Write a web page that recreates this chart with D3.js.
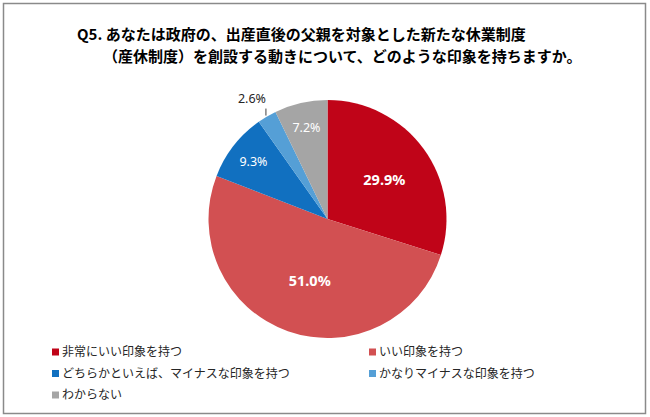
<!DOCTYPE html>
<html>
<head>
<meta charset="utf-8">
<script src="https://cdn.jsdelivr.net/npm/d3@7"></script>
<style>
  body { margin: 0; background: #fff; }
  text { font-family: "Noto Sans CJK JP", "Noto Sans", sans-serif; }
</style>
</head>
<body>
<div id="chart"></div>
<script>
// data
var categories = ["非常にいい印象を持つ", "いい印象を持つ", "どちらかといえば、マイナスな印象を持つ", "かなりマイナスな印象を持つ", "わからない"];
var values = [29.9, 51.0, 9.3, 2.6, 7.2];
var colors = ["#C00418", "#D25052", "#1170C0", "#559FD6", "#A5A5A5"];
var titleLines = ["Q5. あなたは政府の、出産直後の父親を対象とした新たな休業制度", "（産休制度）を創設する動きについて、どのような印象を持ちますか。"];

var svgWidth = 650;
var svgHeight = 417;

var svg = d3.select("#chart")
  .append("svg")
  .attr("width", svgWidth)
  .attr("height", svgHeight);

// outer frame
svg.append("rect")
  .attr("x", 3.5)
  .attr("y", 3.5)
  .attr("width", 642)
  .attr("height", 410)
  .attr("fill", "#fff")
  .attr("stroke", "#8a8a8a")
  .attr("stroke-width", 1.5);

// title (two lines)
svg.append("text")
  .attr("x", 77)
  .attr("y", 40)
  .style("font-size", "15px")
  .style("font-weight", "bold")
  .text(titleLines[0]);

svg.append("text")
  .attr("x", 103)
  .attr("y", 62)
  .style("font-size", "15px")
  .style("font-weight", "bold")
  .text(titleLines[1]);

// pie
var cx = 327.5, cy = 219, radius = 119;

var pie = d3.pie().sort(null).value(d => d);
var arcs = pie(values);

var arc = d3.arc().innerRadius(0).outerRadius(radius);

var pieGroup = svg.append("g")
  .attr("transform", `translate(${cx}, ${cy})`);

pieGroup.selectAll("path")
  .data(arcs)
  .enter()
  .append("path")
  .attr("d", arc)
  .attr("fill", (d, i) => colors[i]);

// labels inside slices
function labelRadius(v) {
  if (v > 20) return radius * 0.55;
  return radius * 0.79;
}

arcs.forEach(function(d, i) {
  var v = d.value;
  var mid = (d.startAngle + d.endAngle) / 2;
  if (v < 5) {
    // outside label with short leader line
    var ex = radius * Math.sin(mid);
    var ey = -radius * Math.cos(mid);
    pieGroup.append("line")
      .attr("x1", ex - 1)
      .attr("y1", ey - 1)
      .attr("x2", ex - 1)
      .attr("y2", ey - 8)
      .attr("stroke", "#404040")
      .attr("stroke-width", 1);
    pieGroup.append("text")
      .attr("x", ex - 1)
      .attr("y", ey - 14)
      .attr("text-anchor", "end")
      .style("font-family", "'Noto Sans', sans-serif")
      .style("font-size", "12.5px")
      .attr("fill", "#262626")
      .text(v.toFixed(1) + "%");
    return;
  }
  var r = labelRadius(v);
  var big = v > 20;
  pieGroup.append("text")
    .attr("x", r * Math.sin(mid) + (big ? 4 : 0))
    .attr("y", -r * Math.cos(mid))
    .attr("dy", "0.35em")
    .attr("text-anchor", "middle")
    .style("font-family", "'Noto Sans', sans-serif")
    .style("font-size", big ? "14.5px" : "12.5px")
    .style("font-weight", big ? "bold" : "normal")
    .attr("fill", "#fff")
    .text(v.toFixed(1) + "%");
});

// legend
var legendX = [52, 369];
var legendY = [352, 373.5, 395];

var legend = svg.selectAll("g.legend")
  .data(categories)
  .enter()
  .append("g")
  .attr("class", "legend")
  .attr("transform", (d, i) => `translate(${legendX[i % 2]}, ${legendY[Math.floor(i / 2)]})`);

legend.append("rect")
  .attr("x", 0)
  .attr("y", -3.5)
  .attr("width", 7)
  .attr("height", 7)
  .attr("fill", (d, i) => colors[i]);

legend.append("text")
  .attr("x", 10)
  .attr("y", 0)
  .attr("dy", "0.36em")
  .style("font-size", "12px")
  .attr("fill", "#262626")
  .text(d => d);
</script>
</body>
</html>
